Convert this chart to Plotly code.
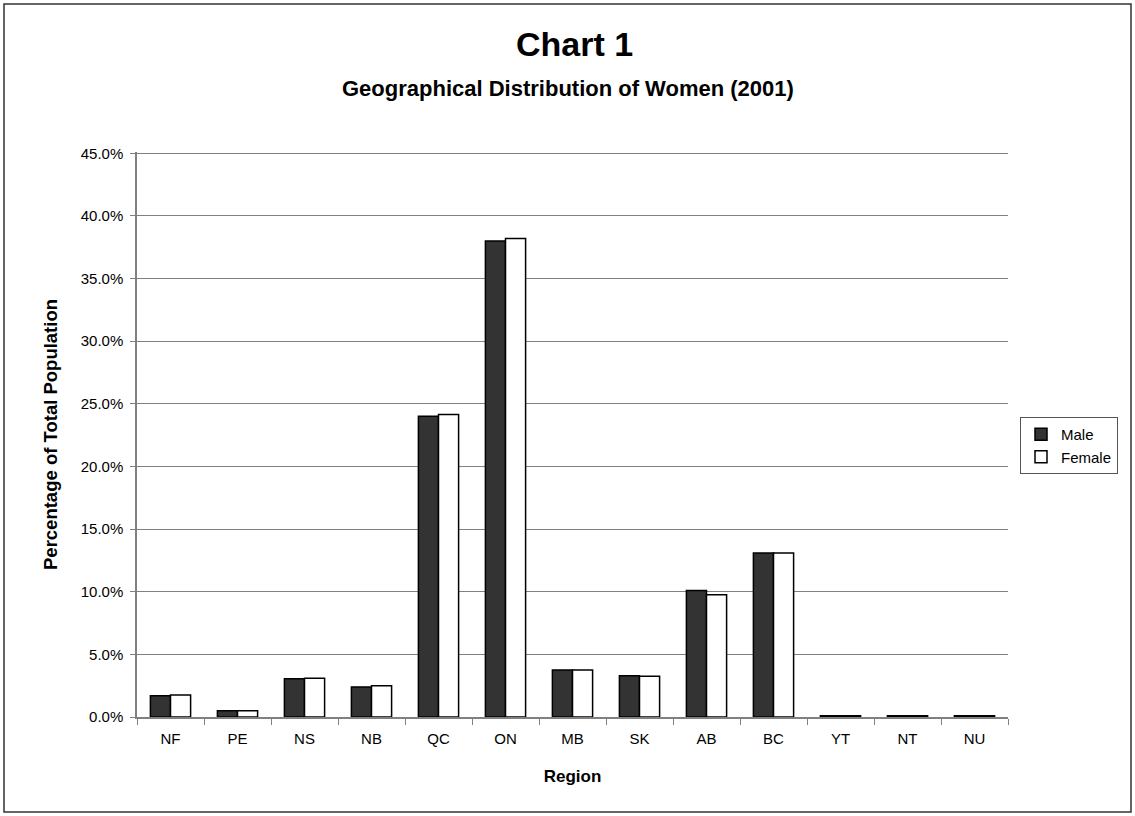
import plotly.graph_objects as go

regions = ["NF", "PE", "NS", "NB", "QC", "ON", "MB", "SK", "AB", "BC", "YT", "NT", "NU"]
male_pct = [1.7, 0.5, 3.05, 2.4, 24.0, 38.0, 3.75, 3.3, 10.1, 13.1, 0.1, 0.1, 0.1]
female_pct = [1.75, 0.5, 3.1, 2.5, 24.15, 38.2, 3.75, 3.25, 9.75, 13.1, 0.1, 0.1, 0.1]
y_ticks = [0, 5, 10, 15, 20, 25, 30, 35, 40, 45]
y_tick_labels = [f"{v:.1f}%" for v in y_ticks]

FONT = "Liberation Sans, Arial, sans-serif"

fig = go.Figure()
fig.add_trace(go.Bar(
    x=regions, y=male_pct, name="Male",
    marker=dict(color="#333333", line=dict(color="#000000", width=1.5)),
))
fig.add_trace(go.Bar(
    x=regions, y=female_pct, name="Female",
    marker=dict(color="#ffffff", line=dict(color="#000000", width=1.5)),
))

# plot-area geometry in pixels, used to place the outer frame and titles in paper units
L, R, T, B = 137, 127, 152, 99
W, H = 1135, 816
pw, ph = W - L - R, H - T - B

def px_x(px):
    return (px - L) / pw

def px_y(py):
    return (H - B - py) / ph

fig.update_layout(
    width=W, height=H,
    margin=dict(l=L, r=R, t=T, b=B),
    paper_bgcolor="white", plot_bgcolor="white",
    barmode="group", bargap=0.4, bargroupgap=0.0,
    font=dict(family=FONT, size=15, color="#000000"),
    showlegend=True,
    legend=dict(
        x=px_x(1020), y=px_y(417), xanchor="left", yanchor="top",
        bordercolor="#555555", borderwidth=1, bgcolor="white",
        font=dict(family=FONT, size=15, color="#000000"),
        itemwidth=30, tracegroupgap=0,
    ),
    xaxis=dict(
        showline=True, linecolor="#808080", linewidth=1.5,
        ticks="outside", tickson="boundaries", ticklen=6, tickcolor="#808080",
        showgrid=False, tickfont=dict(size=15), ticklabelstandoff=7,
        title=dict(text="<b>Region</b>", font=dict(size=17), standoff=24),
    ),
    yaxis=dict(
        range=[0, 45.1], tickvals=y_ticks, ticktext=y_tick_labels,
        showline=True, linecolor="#808080", linewidth=1.5,
        ticks="outside", ticklen=5, tickcolor="#808080",
        showgrid=True, gridcolor="#808080", gridwidth=1.2,
        zeroline=False, tickfont=dict(size=15), ticklabelstandoff=4,
        title=dict(text="<b>Percentage of Total Population</b>", font=dict(size=18.5), standoff=18),
    ),
    annotations=[
        dict(text="<b>Chart 1</b>", xref="paper", yref="paper",
             x=px_x(574), y=px_y(44), xanchor="center", yanchor="middle",
             showarrow=False, font=dict(family=FONT, size=34)),
        dict(text="<b>Geographical Distribution of Women (2001)</b>", xref="paper", yref="paper",
             x=px_x(568), y=px_y(89), xanchor="center", yanchor="middle",
             showarrow=False, font=dict(family=FONT, size=22)),
    ],
    shapes=[
        dict(type="rect", xref="paper", yref="paper",
             x0=px_x(4), x1=px_x(1131), y0=px_y(812), y1=px_y(4),
             line=dict(color="#333333", width=1.5), layer="below"),
    ],
)

fig.write_html("out.html")
